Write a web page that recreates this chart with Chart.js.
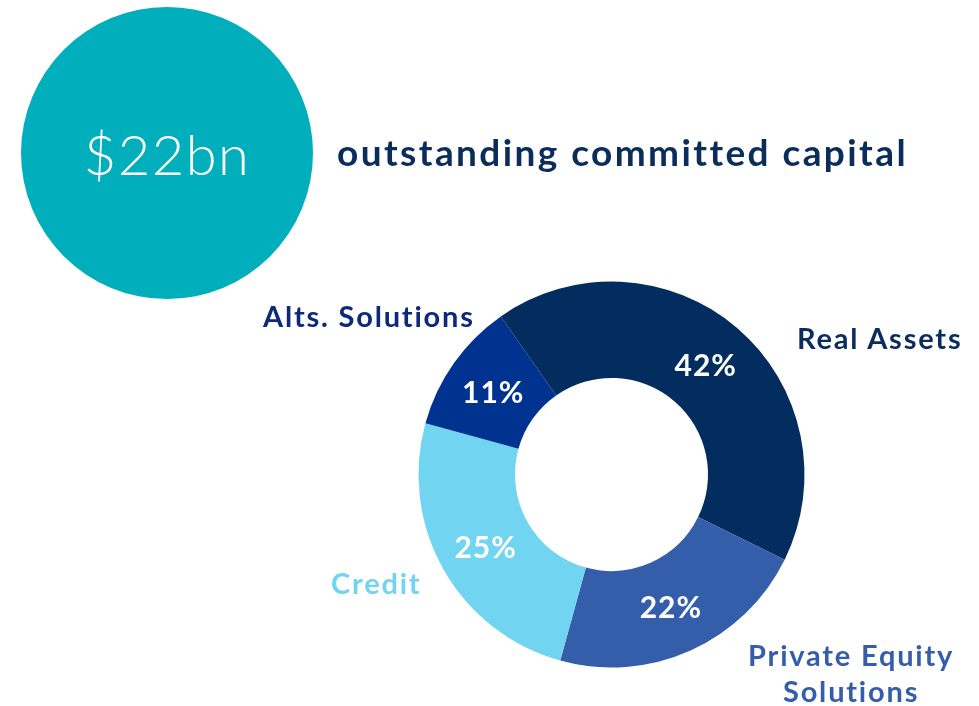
<!DOCTYPE html>
<html>
<head>
<meta charset="utf-8">
<script src="https://cdn.jsdelivr.net/npm/chart.js@4"></script>
<style>
  html, body { margin: 0; padding: 0; background: #fff; }
  .page { position: relative; width: 979px; height: 706px; overflow: hidden; font-family: Lato, "Noto Sans", sans-serif; }
  .page canvas { position: absolute; left: 0; top: 0; }
  .bubble {
    position: absolute; left: 21px; top: 7px; width: 292px; height: 292px;
    border-radius: 50%; background: #00afbb; color: #fff;
    display: flex; align-items: center; justify-content: center;
    font-size: 56px; font-weight: 300; letter-spacing: 1.5px;
  }
  .headline { position: absolute; left: 337px; top: 129px; font-size: 37px; font-weight: 700; color: #0b2d5b; letter-spacing: 2.4px; }
  .lbl { position: absolute; font-size: 29px; font-weight: 700; line-height: 36px; white-space: nowrap; letter-spacing: 1.8px; }
</style>
</head>
<body>
<div class="page">
  <canvas id="donut" width="979" height="706"></canvas>
  <div class="bubble">$22bn</div>
  <div class="headline">outstanding committed capital</div>
  <div class="lbl" style="left:263px; top:298px; color:#0d2a78;">Alts. Solutions</div>
  <div class="lbl" style="left:797px; top:320px; color:#0a2d5e;">Real Assets</div>
  <div class="lbl" style="left:331px; top:565px; color:#71d4f1;">Credit</div>
  <div class="lbl" style="left:748px; top:637px; color:#355eaa; text-align:center;">Private Equity<br>Solutions</div>
</div>
<script>
const categories = ["Real Assets", "Private Equity Solutions", "Credit", "Alts. Solutions"];
const shares = [42, 22, 25, 11];
const sliceColors = ["#022d5e", "#355eaa", "#71d4f1", "#003290"];

// white % labels in the middle of each ring segment
const pctLabels = {
  id: "pctLabels",
  afterDatasetsDraw(chart) {
    const ctx = chart.ctx;
    const meta = chart.getDatasetMeta(0);
    ctx.save();
    ctx.fillStyle = "#fff";
    ctx.font = "bold 30px Lato, 'Noto Sans', sans-serif";
    ctx.letterSpacing = "1px";
    ctx.textAlign = "center";
    ctx.textBaseline = "middle";
    meta.data.forEach((arc, i) => {
      const p = arc.tooltipPosition();
      ctx.fillText(shares[i] + "%", p.x, p.y + 2);
    });
    ctx.restore();
  }
};

new Chart(document.getElementById("donut"), {
  type: "doughnut",
  data: {
    labels: categories,
    datasets: [{
      data: shares,
      backgroundColor: sliceColors,
      borderWidth: 0
    }]
  },
  options: {
    responsive: false,
    animation: false,
    rotation: -35,
    cutout: "50%",
    layout: { padding: { left: 418.5, top: 281.5, right: 174.5, bottom: 38.5 } },
    plugins: { legend: { display: false }, tooltip: { enabled: false } }
  },
  plugins: [pctLabels]
});
</script>
</body>
</html>
